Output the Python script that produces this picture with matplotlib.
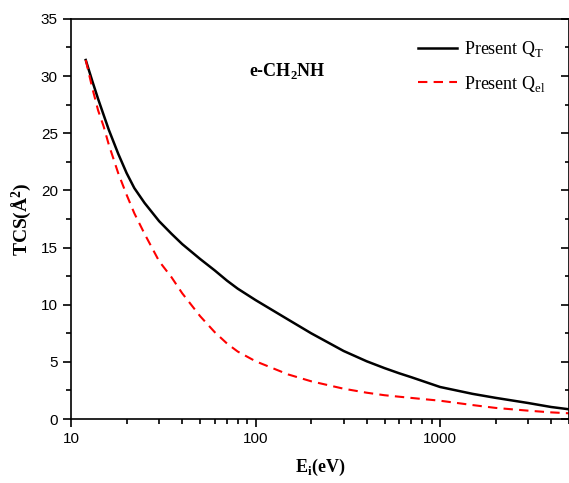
import numpy as np
import matplotlib
matplotlib.use("Agg")
import matplotlib.pyplot as plt
from matplotlib.ticker import MultipleLocator, LogLocator, NullFormatter, FixedLocator

plt.rcParams['mathtext.fontset'] = 'custom'
plt.rcParams['mathtext.rm'] = 'Liberation Serif'
plt.rcParams['mathtext.bf'] = 'Liberation Serif:bold'

# data
energy_t = [12, 13, 14, 15, 16, 18, 20, 22, 25, 30, 35, 40, 50, 60, 70, 80,
            100, 150, 200, 300, 400, 500, 600, 700, 1000, 1500, 2000, 3000, 4000, 5000]
q_total = [31.4, 29.6, 28.0, 26.6, 25.3, 23.2, 21.5, 20.2, 18.9, 17.3, 16.2, 15.3, 14.0, 13.0,
           12.1, 11.4, 10.4, 8.7, 7.5, 5.95, 5.05, 4.45, 4.0, 3.65, 2.8, 2.2, 1.85, 1.4, 1.05, 0.85]

energy_el = [12, 13, 14, 15, 16, 18, 20, 22, 25, 30, 35, 40, 50, 60, 70, 80,
             100, 150, 200, 300, 400, 500, 600, 800, 1000, 1500, 2000, 3000, 4000, 5000]
q_elastic = [31.4, 29.0, 27.0, 25.6, 24.0, 21.5, 19.6, 18.0, 16.2, 13.8, 12.4, 11.0, 9.0, 7.6,
             6.6, 5.9, 5.05, 3.9, 3.3, 2.65, 2.3, 2.08, 1.95, 1.75, 1.6, 1.22, 0.97, 0.73, 0.58, 0.5]

fig = plt.figure(figsize=(5.69, 4.83), dpi=100)
ax = fig.add_axes([0.125, 0.1325, 0.875, 0.8285])

ax.plot(energy_t, q_total, color='black', lw=1.8, label=r'Present Q$_\mathrm{T}$')
ax.plot(energy_el, q_elastic, color='red', lw=1.5, ls=(0, (4.5, 3)), label=r'Present Q$_\mathrm{el}$')

ax.set_xscale('log')
ax.set_xlim(10, 5000)
ax.set_ylim(0, 35)
ax.yaxis.set_major_locator(MultipleLocator(5))
ax.yaxis.set_minor_locator(MultipleLocator(2.5))
ax.xaxis.set_major_locator(FixedLocator([10, 100, 1000]))
ax.xaxis.set_minor_locator(LogLocator(base=10, subs=np.arange(2, 10), numticks=20))
ax.xaxis.set_minor_formatter(NullFormatter())
ax.set_xticklabels(['10', '100', '1000'])

ax.tick_params(which='both', direction='out', top=False, right=False, labelsize=11, width=1.2)
ax.tick_params(which='major', length=6)
ax.tick_params(which='minor', length=3.5)
for lab in ax.get_xticklabels() + ax.get_yticklabels():
    lab.set_fontfamily('Liberation Sans')

sec_y = ax.secondary_yaxis('right')
sec_y.yaxis.set_major_locator(MultipleLocator(5))
sec_y.yaxis.set_minor_locator(MultipleLocator(2.5))
sec_y.tick_params(which='both', direction='in', labelright=False, width=1.2)
sec_y.tick_params(which='major', length=6)
sec_y.tick_params(which='minor', length=3)

for s in ax.spines.values():
    s.set_linewidth(1.2)

ax.set_xlabel(r'E$_\mathbf{i}$(eV)', fontfamily='Liberation Serif', fontweight='bold', fontsize=13, labelpad=8)
ax.set_ylabel(r'TCS($\mathbf{\AA^2}$)', fontfamily='Liberation Serif', fontweight='bold', fontsize=14, labelpad=6)

ax.text(0.434, 0.857, r'e-CH$_\mathbf{2}$NH', transform=ax.transAxes, fontfamily='Liberation Serif',
        fontweight='bold', fontsize=13, ha='center')

leg = ax.legend(loc='upper right', frameon=False, prop={'family': 'Liberation Serif', 'size': 13},
                handlelength=2.2, handletextpad=0.35, labelspacing=0.8, bbox_to_anchor=(0.985, 0.99))

fig.savefig('out.png', dpi=100)
